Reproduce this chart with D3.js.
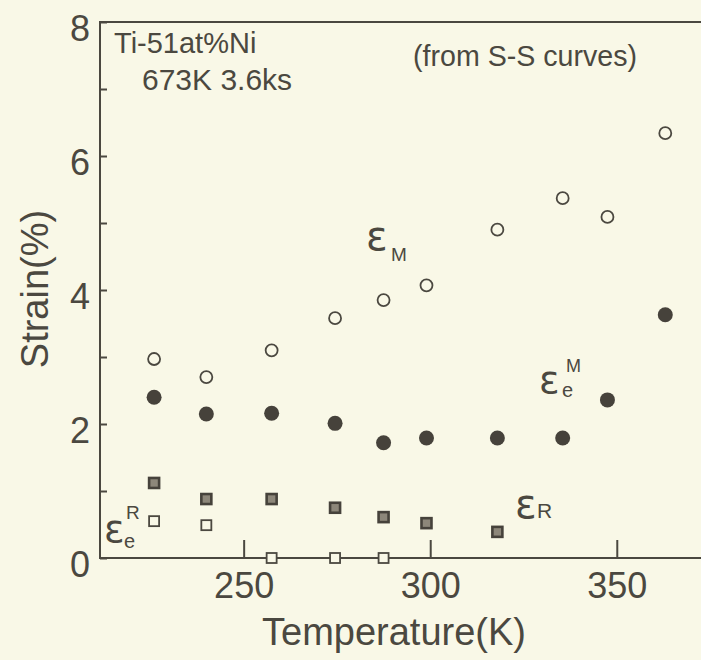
<!DOCTYPE html>
<html>
<head>
<meta charset="utf-8">
<script src="https://cdn.jsdelivr.net/npm/d3@7"></script>
<style>
  body { margin: 0; background: #f9f8e7; }
  svg { display: block; }
  text { font-family: "Liberation Sans", Arial, sans-serif; fill: #4b4840; }
  .eps { font-family: "DejaVu Sans", sans-serif; }
</style>
</head>
<body>
<svg id="chart"></svg>
<script>
// strain vs temperature, Ti-51at%Ni aged 673K 3.6ks
const tempsM = [226, 240, 257.5, 274.5, 287.5, 299, 318, 335.5, 347.5, 363];
const strainM = [2.97, 2.70, 3.10, 3.58, 3.85, 4.07, 4.90, 5.37, 5.09, 6.34];   // open circles
const strainEM = [2.40, 2.15, 2.16, 2.01, 1.72, 1.79, 1.79, 1.79, 2.36, 3.63];  // filled circles
const tempsR = [226, 240, 257.5, 274.5, 287.5, 299, 318];
const strainR = [1.12, 0.88, 0.88, 0.75, 0.61, 0.52, 0.39];                     // filled squares
const tempsER = [226, 240, 257.5, 274.5, 287.5];
const strainER = [0.55, 0.49, 0, 0, 0];                                         // open squares
const yTicks = [0, 1, 2, 3, 4, 5, 6, 7, 8];
const xTicks = [250, 300, 350];

const width = 701, height = 660;
const ink = '#4b4840';
const bg = '#f9f8e7';

const svg = d3.select('svg#chart')
    .attr('width', width)
    .attr('height', height);

const x = d3.scaleLinear().domain([211.5, 371.5]).range([100, 697]);
const y = d3.scaleLinear().domain([0, 8]).range([558, 22]);

// axes (ticks point inward)
const yAxis = svg.append('g')
    .attr('transform', 'translate(100,0)')
    .call(d3.axisLeft(y).tickValues(yTicks).tickSize(-7).tickPadding(10)
        .tickFormat(d => d % 2 === 0 ? d : ''));
const xAxis = svg.append('g')
    .attr('transform', 'translate(0,558)')
    .call(d3.axisBottom(x).tickValues(xTicks).tickSize(-18).tickPadding(14));

[yAxis, xAxis].forEach(g => {
    g.select('.domain').remove();
    g.selectAll('line').attr('stroke', ink).attr('stroke-width', 2);
    g.selectAll('text').style('font-size', '36px').attr('fill', ink);
});
yAxis.selectAll('text').attr('dy', '0.5em');

// frame: left, bottom, top
svg.append('line').attr('x1', 100).attr('x2', 100).attr('y1', y(8)).attr('y2', y(0))
    .attr('stroke', ink).attr('stroke-width', 2);
svg.append('line').attr('x1', 99).attr('x2', width).attr('y1', y(0)).attr('y2', y(0))
    .attr('stroke', ink).attr('stroke-width', 2);
svg.append('line').attr('x1', 99).attr('x2', width).attr('y1', y(8)).attr('y2', y(8))
    .attr('stroke', ink).attr('stroke-width', 2);

// axis titles
svg.append('text')
    .attr('transform', 'translate(48,289) rotate(-90)')
    .attr('text-anchor', 'middle')
    .style('font-size', '38px')
    .text('Strain(%)');
svg.append('text')
    .attr('x', 394).attr('y', 645)
    .attr('text-anchor', 'middle')
    .style('font-size', '38px')
    .text('Temperature(K)');

// data marks
svg.append('g').selectAll('circle').data(d3.zip(tempsM, strainM))
  .enter().append('circle')
    .attr('cx', d => x(d[0]))
    .attr('cy', d => y(d[1]))
    .attr('r', 6)
    .attr('fill', bg)
    .attr('stroke', ink)
    .attr('stroke-width', 1.8);

svg.append('g').selectAll('circle').data(d3.zip(tempsM, strainEM))
  .enter().append('circle')
    .attr('cx', d => x(d[0]))
    .attr('cy', d => y(d[1]))
    .attr('r', 7.5)
    .attr('fill', '#46423b');

const sq = 10;
svg.append('g').selectAll('rect').data(d3.zip(tempsR, strainR))
  .enter().append('rect')
    .attr('x', d => x(d[0]) - sq / 2)
    .attr('y', d => y(d[1]) - sq / 2)
    .attr('width', sq).attr('height', sq)
    .attr('fill', '#8d877a')
    .attr('stroke', '#46423b')
    .attr('stroke-width', 2.6);

svg.append('g').selectAll('rect').data(d3.zip(tempsER, strainER))
  .enter().append('rect')
    .attr('x', d => x(d[0]) - sq / 2)
    .attr('y', d => y(d[1]) - sq / 2)
    .attr('width', sq).attr('height', sq)
    .attr('fill', bg)
    .attr('stroke', ink)
    .attr('stroke-width', 1.8);

// annotations
const note = (tx, ty, size, str) => svg.append('text')
    .attr('x', tx).attr('y', ty)
    .style('font-size', size + 'px')
    .text(str);

note(114, 53, 29, 'Ti-51at%Ni');
note(142, 90, 30, '673K 3.6ks');
note(413, 66, 28.6, '(from S-S curves)');

// symbol labels: epsilon + sub/superscripts in one text each
// parts: [x, y, size, string, isEpsilon]
const symbol = parts => {
    const t = svg.append('text');
    parts.forEach(p => {
        t.append('tspan')
            .attr('x', p[0]).attr('y', p[1])
            .attr('class', p[4] ? 'eps' : null)
            .style('font-size', p[2] + 'px')
            .text(p[3]);
    });
};

symbol([[366, 250, 40, 'ε', true], [391, 261, 19, 'M']]);
symbol([[539, 393, 38, 'ε', true], [562, 397, 20, 'e'], [566, 372, 18, 'M']]);
symbol([[515, 518, 40, 'ε', true], [537, 518, 21, 'R']]);
symbol([[104, 542, 38, 'ε', true], [124, 548, 20, 'e'], [126, 519, 19, 'R']]);
</script>
</body>
</html>
